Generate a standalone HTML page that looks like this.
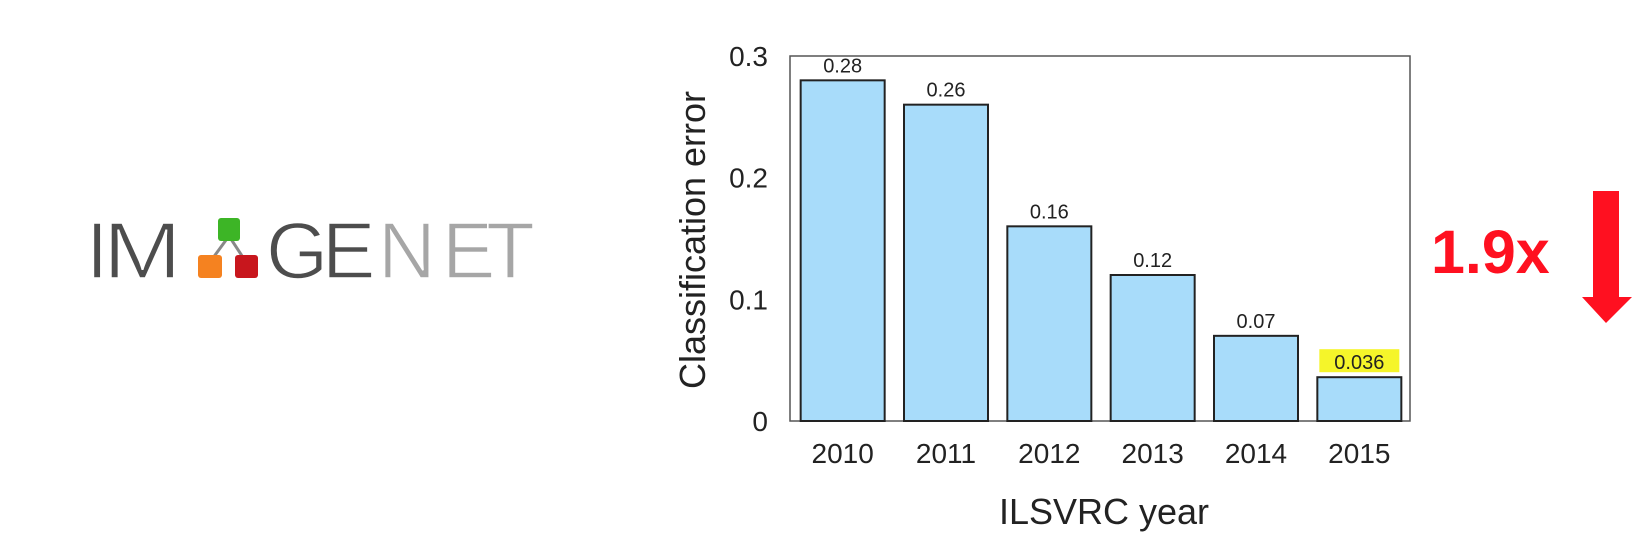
<!DOCTYPE html>
<html><head><meta charset="utf-8"><style>
html,body{margin:0;padding:0;background:#fff;}
svg{display:block;font-family:"Liberation Sans",Arial,sans-serif;}
</style></head><body>
<svg id="c" width="1642" height="546" viewBox="0 0 1642 546" xmlns="http://www.w3.org/2000/svg">
  <g font-size="80" fill="#4d4d4d" stroke="#fff" stroke-width="1.6">
    <text x="86" y="278">I</text>
    <text x="0" y="0" transform="translate(103,278) scale(1.18,1)">M</text>
    <line x1="229" y1="236" x2="210" y2="262" stroke="#888" stroke-width="3"/>
    <line x1="229" y1="236" x2="246" y2="262" stroke="#888" stroke-width="3"/>
    <rect x="218" y="218" width="22" height="23" rx="3" fill="#3db526" stroke="none"/>
    <rect x="198" y="255" width="24" height="23" rx="3" fill="#f58220" stroke="none"/>
    <rect x="235" y="255" width="23" height="23" rx="3" fill="#c8161d" stroke="none"/>
    <text x="266" y="278">G</text>
    <text x="322" y="278">E</text>
    <text x="378" y="278" fill="#a6a6a6">N</text>
    <text x="442" y="278" fill="#a6a6a6">E</text>
    <text x="486" y="278" fill="#a6a6a6">T</text>
  </g>
  <g id="chart"></g>
  <text x="1431" y="273" font-size="61" font-weight="bold" fill="#ff1020">1.9x</text>
  <polygon points="1593,191 1619,191 1619,297 1632,297 1606,323 1582,297 1593,297" fill="#ff1020"/>
</svg>
<script>
const categories = ["2010","2011","2012","2013","2014","2015"];
const values = [0.28, 0.26, 0.16, 0.12, 0.07, 0.036];
const valueLabels = ["0.28","0.26","0.16","0.12","0.07","0.036"];
const yTicks = [0, 0.1, 0.2, 0.3];
const yTickLabels = ["0","0.1","0.2","0.3"];
const highlightIndex = 5;

const NS = "http://www.w3.org/2000/svg";
const g = document.getElementById("chart");
const L = 790, R = 1410, T = 56, B = 421, yMax = 0.3;
const pitch = (R - L) / categories.length;
const barW = 84;
const y = v => B - v / yMax * (B - T);
const xc = i => L + pitch * (i + 0.5) + 1;
function mk(tag, attrs, text) {
  const e = document.createElementNS(NS, tag);
  for (const k in attrs) e.setAttribute(k, attrs[k]);
  if (text !== undefined) e.textContent = text;
  g.appendChild(e);
  return e;
}
let fr = mk("rect", {x: L, y: T, width: R - L, height: B - T, fill: "none", stroke: "#555", "stroke-width": 1.5});


yTicks.forEach((t, i) => {
  const e = mk("text", {x: 768, y: y(t) + 10, "font-size": 28, "text-anchor": "end", fill: "#222"}, yTickLabels[i]);
  
  
});
categories.forEach((c, i) => {
  const b = mk("rect", {x: xc(i) - barW / 2, y: y(values[i]), width: barW, height: B - y(values[i]), fill: "#a8dcfa", stroke: "#222", "stroke-width": 2});
  
  
  if (i === highlightIndex) {
    const h = mk("rect", {x: xc(i) - 40, y: y(values[i]) - 28, width: 80, height: 23, fill: "#f5f52a"});
    
    
  }
  const vl = mk("text", {x: xc(i), y: y(values[i]) - 8, "font-size": 20, "text-anchor": "middle", fill: "#222"}, valueLabels[i]);
  
  
  const xl = mk("text", {x: xc(i), y: 463, "font-size": 28, "text-anchor": "middle", fill: "#222"}, c);
  
  
});
const xt = mk("text", {x: 1104, y: 524, "font-size": 36, "text-anchor": "middle", fill: "#222"}, "ILSVRC year");


const yt = mk("text", {x: 0, y: 0, "font-size": 36, "text-anchor": "middle", fill: "#222", transform: "translate(705,240) rotate(-90)"}, "Classification error");


</script>
</body></html>
